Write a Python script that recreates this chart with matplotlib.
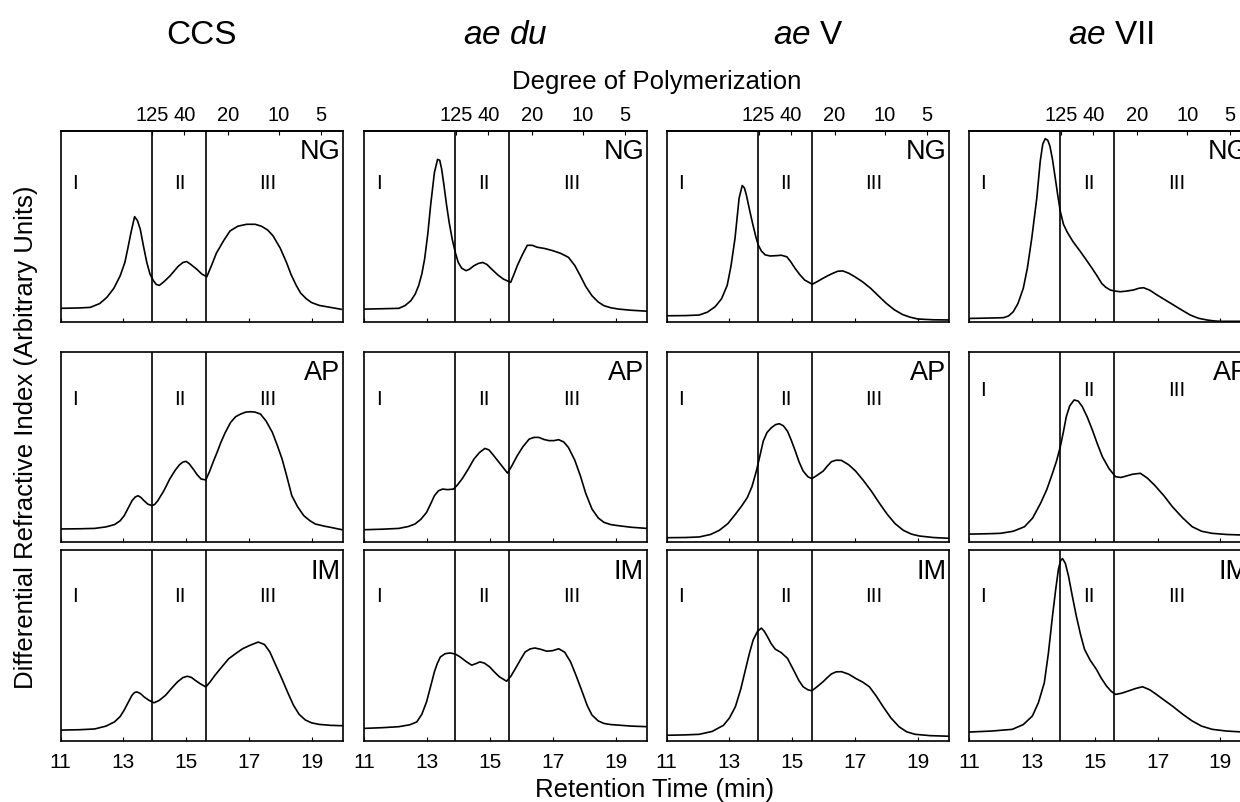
import matplotlib
matplotlib.use('Agg')
import matplotlib.pyplot as plt

plt.rcParams['font.family'] = ['Liberation Sans', 'DejaVu Sans']
plt.rcParams['mathtext.fontset'] = 'custom'
plt.rcParams['mathtext.it'] = 'Liberation Sans:italic'
plt.rcParams['mathtext.rm'] = 'Liberation Sans'

# column titles and row (fraction) labels
genotypes = ['CCS', r'$\mathit{ae\ du}$', r'$\mathit{ae}$ V', r'$\mathit{ae}$ VII']
fractions = ['NG', 'AP', 'IM']
regions = ['I', 'II', 'III']
region_pos = [11.45, 14.8, 17.6]
region_bounds = [13.9, 15.62]

ret_ticks = [11, 13, 15, 17, 19]
dp_pos = [13.93, 14.95, 16.35, 17.95, 19.3]
dp_labels = ['125', '40', '20', '10', '5']

# traces: retention time (min) vs. DRI (% of panel height)
ccs_ng_t = [11.0, 11.6, 11.95, 12.25, 12.48, 12.7, 12.9, 13.05, 13.14, 13.25, 13.36, 13.45, 13.54, 13.65,
            13.75, 13.85, 13.96, 14.05, 14.15, 14.3, 14.49, 14.75, 14.9, 15.02, 15.15, 15.34, 15.5, 15.66,
            15.8, 15.97, 16.2, 16.4, 16.65, 16.93, 17.2, 17.4, 17.6, 17.77, 18.0, 18.2, 18.35, 18.51, 18.65,
            18.83, 19.0, 19.25, 19.6, 19.94]
ccs_ng_y = [7.0, 7.2, 7.5, 9.5, 12.8, 17.5, 24, 31, 38, 47, 55, 53, 48.5, 39,
            31, 25, 21.5, 19.5, 19, 21, 24, 29, 31, 31.5, 30, 27.5, 25, 23.5,
            29, 36, 42.5, 47.5, 50, 51, 51, 50, 48, 45, 38.5, 31, 24.5, 19, 15,
            12, 10, 8.5, 7.5, 6.5]

ccs_ap_t = [11.0, 11.6, 12.09, 12.45, 12.72, 12.9, 13.03, 13.15, 13.28, 13.38, 13.47, 13.56, 13.66, 13.78,
            13.91, 14.0, 14.1, 14.3, 14.48, 14.65, 14.79, 14.9, 15.0, 15.1, 15.23, 15.35, 15.48, 15.63,
            15.75, 15.86, 16.0, 16.11, 16.25, 16.42, 16.58, 16.74, 16.9, 17.05, 17.2, 17.37, 17.55, 17.75,
            17.9, 18.06, 18.2, 18.37, 18.55, 18.75, 18.95, 19.12, 19.4, 19.62, 19.97]
ccs_ap_y = [6.7, 6.8, 7, 7.8, 9, 11, 13.7, 17.5, 21.6, 23.5, 24.2, 23.3, 21.6, 19.8,
            19, 19.6, 21.6, 27, 33, 37.5, 40.5, 41.9, 42.3, 41, 38.2, 35.3, 33, 32.5,
            37, 41.8, 47.5, 52.3, 57.5, 62.8, 65.8, 67.2, 68.2, 68.4, 68.2, 67.2, 63.5, 57.5,
            51, 43.5, 35, 24.2, 18.5, 13.7, 11, 9.3, 8.2, 7.5, 6.3]

ccs_im_t = [11.0, 11.6, 12.09, 12.45, 12.72, 12.9, 13.03, 13.15, 13.28, 13.36, 13.44, 13.55, 13.66, 13.82,
            13.98, 14.15, 14.35, 14.55, 14.73, 14.9, 15.04, 15.17, 15.29, 15.45, 15.63, 15.77, 15.92,
            16.15, 16.36, 16.6, 16.8, 17.05, 17.3, 17.5, 17.67, 17.85, 18.05, 18.25, 18.42, 18.6, 18.8,
            19.0, 19.24, 19.6, 19.97]
ccs_im_y = [5.7, 5.9, 6.3, 7.8, 10, 12.8, 16.2, 20, 24, 25.4, 25.7, 24.8, 23.1, 21.3,
            20, 21.3, 24, 27.8, 31, 33.2, 33.9, 33.3, 31.8, 30, 28.3, 31, 34.4,
            39, 43.1, 46, 48.3, 50.2, 51.8, 50.5, 46.6, 40, 32.7, 25, 18.8, 14, 11,
            9.5, 8.7, 8.2, 8]

aedu_ng_t = [11.0, 11.6, 12.1, 12.3, 12.48, 12.62, 12.73, 12.83, 12.92, 13.02, 13.11, 13.23, 13.33, 13.4,
             13.46, 13.53, 13.61, 13.7, 13.8, 13.9, 13.99, 14.1, 14.24, 14.35, 14.49, 14.63, 14.77, 14.9,
             15.05, 15.25, 15.43, 15.66, 15.77, 15.87, 16.03, 16.19, 16.35, 16.5, 16.75, 17.0, 17.25, 17.5,
             17.7, 17.88, 18.05, 18.25, 18.45, 18.63, 18.85, 19.1, 19.5, 20.0]
aedu_ng_y = [6.6, 6.8, 7, 8.5, 11, 14.5, 19, 25, 33, 46, 61, 78, 85, 84.5,
             80, 72, 62, 52, 43, 36, 31, 28, 26.7, 27.5, 29.3, 30.5, 31, 30,
             27.6, 24.5, 22.3, 20.6, 25, 29.3, 35, 40, 40, 39, 38.3, 37.2, 35.8, 33.7,
             29.5, 24, 18.5, 13.6, 10.3, 8.4, 7.3, 6.6, 6, 5.5]

aedu_ap_t = [11.0, 11.6, 12.1, 12.4, 12.61, 12.8, 12.98, 13.1, 13.23, 13.36, 13.49, 13.65, 13.84, 13.97,
             14.11, 14.3, 14.49, 14.67, 14.84, 14.97, 15.12, 15.35, 15.56, 15.7, 15.87, 16.05, 16.25, 16.4,
             16.56, 16.72, 16.88, 17.04, 17.19, 17.35, 17.5, 17.7, 17.88, 18.05, 18.25, 18.45, 18.63, 18.85,
             19.1, 19.5, 20.0]
aedu_ap_y = [6.3, 6.6, 7, 8, 9.3, 11.8, 15.4, 19.5, 24.2, 26.8, 27.7, 27.4, 27.7, 30,
             33, 38, 43.5, 47, 49.1, 48.3, 45.3, 40.5, 36.1, 40, 45.3, 50, 54, 54.9,
             54.9, 53.8, 53.2, 53.2, 53.7, 52.5, 49.6, 43, 34.7, 25.5, 17.2, 12.5, 10.2, 9,
             8.4, 7.6, 7]

aedu_im_t = [11.0, 11.6, 12.1, 12.45, 12.67, 12.83, 12.98, 13.1, 13.23, 13.32, 13.42, 13.57, 13.73, 13.9,
             14.05, 14.25, 14.42, 14.55, 14.68, 14.82, 14.99, 15.15, 15.3, 15.53, 15.67, 15.81, 15.97,
             16.12, 16.28, 16.43, 16.62, 16.81, 17.0, 17.19, 17.38, 17.57, 17.75, 17.94, 18.1, 18.25,
             18.45, 18.63, 18.85, 19.1, 19.5, 20.0]
aedu_im_y = [6.6, 7, 7.5, 8.5, 10, 14, 20.5, 28, 36.2, 40.5, 44, 45.7, 46.1, 45.5,
             44, 41.5, 39.7, 40.5, 41.4, 40.8, 38.8, 36, 33.6, 31.3, 34, 37.9, 42.5,
             46.6, 48.2, 48.7, 48, 47, 47.3, 48.3, 46.5, 41.4, 34, 25.7, 18.5, 13.6,
             10.5, 9.2, 8.6, 8.3, 7.8, 7.5]

aev_ng_t = [11.0, 11.6, 12.04, 12.3, 12.55, 12.75, 12.93, 13.05, 13.18, 13.31, 13.41, 13.48, 13.54, 13.65,
            13.75, 13.85, 13.92, 14.02, 14.14, 14.3, 14.52, 14.65, 14.83, 14.95, 15.09, 15.25, 15.4, 15.64,
            15.8, 15.98, 16.15, 16.29, 16.45, 16.61, 16.8, 16.99, 17.25, 17.5, 17.75, 18.0, 18.25, 18.51,
            18.75, 19.01, 19.5, 20.0]
aev_ng_y = [3.1, 3.2, 3.5, 5, 7.9, 12, 19, 29, 43.7, 64.7, 71.3, 70, 66.4, 58,
            50.7, 44, 40.2, 37, 35, 34.4, 34.6, 34.8, 34, 31.5, 28, 24.5, 21.8, 19.6,
            21, 22.7, 24.2, 25.3, 26.4, 26.6, 25.4, 23.6, 20.8, 17.5, 13.5, 9.6, 6.3, 3.8,
            2.4, 1.4, 1.0, 0.9]

aev_ap_t = [11.0, 11.6, 12.04, 12.4, 12.68, 12.95, 13.19, 13.4, 13.57, 13.72, 13.86, 13.97, 14.08, 14.2,
            14.34, 14.47, 14.59, 14.72, 14.85, 14.97, 15.1, 15.22, 15.35, 15.5, 15.63, 15.8, 15.99,
            16.12, 16.25, 16.4, 16.57, 16.8, 17.02, 17.27, 17.52, 17.77, 18.03, 18.28, 18.54, 18.8,
            19.05, 19.5, 19.98]
aev_ap_y = [2.1, 2.2, 2.5, 3.8, 6, 9.5, 14.4, 19, 23.2, 29, 37.2, 45, 53, 57.5,
            60, 61.6, 62.1, 61, 58.2, 53.5, 47.7, 42, 37.2, 34.2, 33.2, 35, 37.2,
            39.8, 42.1, 42.9, 42.8, 40.5, 37.2, 32.2, 26.7, 20.5, 14.4, 9.5, 6, 4,
            3, 2.2, 1.8]

aev_im_t = [11.0, 11.6, 12.04, 12.45, 12.81, 13.0, 13.19, 13.36, 13.51, 13.64, 13.76, 13.9, 14.02, 14.11,
            14.21, 14.33, 14.46, 14.65, 14.85, 14.97, 15.1, 15.22, 15.35, 15.5, 15.63, 15.8, 15.99,
            16.12, 16.25, 16.4, 16.57, 16.8, 17.02, 17.25, 17.46, 17.68, 17.9, 18.15, 18.41, 18.65,
            18.92, 19.4, 19.98]
aev_im_y = [3, 3.2, 3.5, 5, 8.2, 12, 17.9, 27, 37.2, 46, 53, 57.5, 59.1, 57.5,
            54.7, 51, 48.1, 46.3, 43.3, 39.5, 35.4, 31.5, 28.4, 26.8, 26.3, 28.5, 31.1,
            33.2, 35.1, 36.2, 36.3, 35, 32.8, 30.8, 28.4, 23.5, 17.9, 12, 7.4, 4.8,
            3.5, 2.8, 2.5]

aevii_ng_t = [11.0, 11.6, 12.09, 12.25, 12.4, 12.55, 12.72, 12.85, 12.99, 13.15, 13.26, 13.34, 13.42, 13.5,
              13.57, 13.65, 13.74, 13.82, 13.9, 14.0, 14.11, 14.3, 14.54, 14.72, 14.91, 15.07, 15.22,
              15.35, 15.49, 15.65, 15.81, 16.0, 16.23, 16.4, 16.55, 16.75, 16.98, 17.25, 17.51, 17.78,
              18.04, 18.3, 18.57, 18.8, 19.0, 20.0]
aevii_ng_y = [1.7, 1.9, 2.1, 3, 5.2, 9.5, 17.5, 28, 43.7, 64.7, 84, 93, 95.8, 95,
              91.8, 85, 75, 66, 57.7, 51, 47.2, 42, 36.7, 32.5, 28, 24, 20,
              18, 16.6, 16, 15.7, 16, 16.6, 17.5, 17.8, 16.5, 14, 11.3, 8.7, 6,
              3.5, 1.8, 0.9, 0.4, 0.2, 0.2]

aevii_ap_t = [11.0, 11.6, 11.99, 12.4, 12.76, 13.02, 13.27, 13.47, 13.65, 13.78, 13.9, 14.0, 14.09, 14.2,
              14.34, 14.47, 14.6, 14.76, 14.92, 15.08, 15.24, 15.45, 15.66, 15.83, 16.01, 16.2, 16.45,
              16.67, 16.9, 17.2, 17.47, 17.8, 18.1, 18.4, 18.74, 19.2, 19.73, 20.0]
aevii_ap_y = [4, 4.2, 4.4, 5.5, 7.9, 12.5, 20.2, 27.5, 36, 42.5, 50, 58, 65.8, 71.5,
              74.6, 74, 71.1, 65.5, 58.8, 51.5, 44.7, 38.5, 34.2, 33.8, 34.6, 35.5, 36,
              33.5, 29.8, 24.2, 18.4, 12.5, 7.9, 5.5, 4.4, 3.8, 3.5, 3.5]

aevii_im_t = [11.0, 11.7, 12.37, 12.72, 13.01, 13.2, 13.39, 13.52, 13.65, 13.75, 13.84, 13.91, 13.97, 14.06,
              14.16, 14.28, 14.41, 14.54, 14.67, 14.85, 15.05, 15.2, 15.37, 15.52, 15.66, 15.85, 16.07,
              16.3, 16.52, 16.75, 16.96, 17.2, 17.47, 17.8, 18.1, 18.4, 18.74, 19.2, 19.73, 20.0]
aevii_im_y = [4.7, 5.2, 6.1, 8.6, 13.1, 20, 30.5, 46, 65.4, 79, 90, 94.5, 95.5, 93,
              86.4, 76, 65.4, 56, 48, 42.3, 37.5, 33, 28.8, 26, 24.4, 25, 26.2,
              27.5, 28.4, 26.8, 24.4, 21.5, 18.3, 14, 10.5, 7.8, 6.1, 5.2, 4.7, 4.7]

traces = [
    [(ccs_ng_t, ccs_ng_y), (aedu_ng_t, aedu_ng_y), (aev_ng_t, aev_ng_y), (aevii_ng_t, aevii_ng_y)],
    [(ccs_ap_t, ccs_ap_y), (aedu_ap_t, aedu_ap_y), (aev_ap_t, aev_ap_y), (aevii_ap_t, aevii_ap_y)],
    [(ccs_im_t, ccs_im_y), (aedu_im_t, aedu_im_y), (aev_im_t, aev_im_y), (aevii_im_t, aevii_im_y)],
]

W, H = 1240, 803
fig = plt.figure(figsize=(W / 100, H / 100), dpi=100)

# panel layout in pixels (last column runs off the right edge, as in the scan)
col_left = [60.5, 364.4, 666.6, 969.3]
col_w = 282.5
row_top = [131.7, 352.7, 551.0]
row_bot = [322.7, 542.7, 742.0]
region_y = [0.73, 0.755, 0.76]

for r in range(3):
    for c in range(4):
        ax = fig.add_axes([col_left[c] / W, 1 - row_bot[r] / H,
                           col_w / W, (row_bot[r] - row_top[r]) / H])
        t, y = traces[r][c]
        ax.plot(t, y, color='black', lw=1.2, solid_joinstyle='round')
        for b in region_bounds:
            ax.axvline(b, color='black', lw=1.2)
        ax.set_xlim(11, 20)
        ax.set_ylim(0, 100)
        ax.set_yticks([])
        ax.set_xticks(ret_ticks)
        ax.tick_params(axis='x', direction='in', length=3, width=0.8, labelsize=15, pad=8,
                       labelbottom=(r == 2))
        for s in ax.spines.values():
            s.set_linewidth(1.2)

        # row 2 of the last column has its region marks set a bit higher
        ry = 0.80 if (r == 1 and c == 3) else region_y[r]
        for lab, xp in zip(regions, region_pos):
            ax.text(xp, ry * 100, lab, ha='center', va='center', fontsize=15)
        ax.text(0.99, 0.855, fractions[r], transform=ax.transAxes, ha='right', va='baseline', fontsize=19.5)

        if r == 0:
            top = ax.secondary_xaxis('top')
            top.set_xticks(dp_pos)
            top.set_xticklabels(dp_labels)
            top.tick_params(direction='in', length=3, width=0.8, labelsize=14.5, pad=5)
            top.spines['top'].set_linewidth(1.2)
            fig.text((col_left[c] + col_w / 2) / W, 1 - 43.5 / H, genotypes[c],
                     ha='center', va='baseline', fontsize=24)

fig.text(657 / W, 1 - 89 / H, 'Degree of Polymerization', ha='center', va='baseline', fontsize=18.5)
fig.text(655 / W, 1 - 797 / H, 'Retention Time (min)', ha='center', va='baseline', fontsize=18.5)
fig.text(26 / W, 1 - 437 / H, 'Differential Refractive Index (Arbitrary Units)',
         ha='center', va='center', rotation=90, fontsize=18.5)

fig.savefig('out.png', dpi=100)
